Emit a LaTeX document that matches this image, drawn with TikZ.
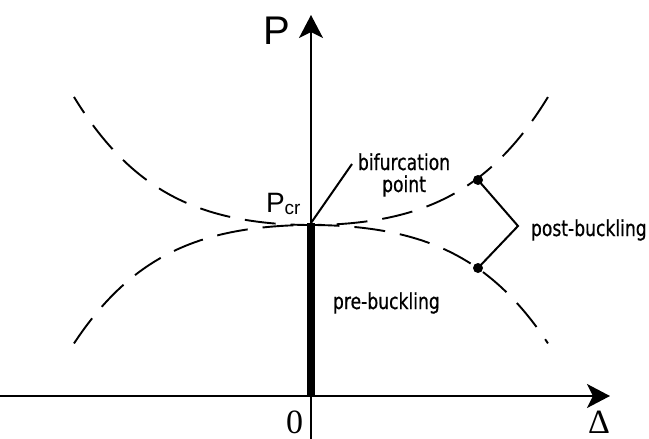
\documentclass[tikz,border=0pt]{standalone}
\usepackage{fontspec}
\setmainfont{Liberation Serif}
\newfontfamily\lab[FakeStretch=0.78,FakeBold=0.6]{DejaVu Sans}
\newfontfamily\arialf{Liberation Sans}
\usetikzlibrary{arrows.meta}
\begin{document}
\begin{tikzpicture}[x=1pt,y=-1pt, line width=2pt,
  axis/.style={-{Stealth[length=23pt,width=24pt,inset=6pt]}},
  dashcurve/.style={dash pattern=on 31pt off 15pt, line width=1.9pt},
  lbl/.style={font=\lab\fontsize{22}{22}\selectfont, inner sep=0pt, anchor=base west},
  dotmark/.style={circle, fill, inner sep=0pt, minimum size=10pt}]
\useasboundingbox (0,0) rectangle (649,439);
% axes
\coordinate (xs) at (0,396);
\coordinate (xe) at (610,396);
\coordinate (ys) at (311,439);
\coordinate (ye) at (311,15);
\draw[axis] (xs) -- (xe);
\draw[axis] (ys) -- (ye);
% pre-buckling bar
\coordinate (pcr) at (311,223);
\coordinate (bot) at (311,396);
\draw[line width=8pt] (pcr) -- (bot);
% curves
\draw[dashcurve, dash phase=12pt] plot[domain=-2.37:2.37, samples=90, smooth]
  ({311+100*\x},{225-11*\x*\x-2.1*\x*\x*\x*\x});
\draw[dashcurve] plot[domain=-2.37:2.37, samples=90, smooth]
  ({311+100*\x},{225+0.925*(11*\x*\x+2.1*\x*\x*\x*\x)});
% dots and bracket
\node[dotmark] (d1) at (478,180) {};
\node[dotmark] (d2) at (478,268) {};
\coordinate (br) at (518,226);
\draw (d1.center) -- (br) -- (d2.center);
% leader
\coordinate (lt) at (352,164);
\draw (pcr) -- (lt);
% labels
\node[lbl] (bif) at (357,170) {bifurcation};
\node[lbl, anchor=base] (pt) at ([yshift=-22pt]bif.base) {point};
\node[lbl] (post) at (530,236) {post-buckling};
\node[lbl] (pre) at (332,309) {pre-buckling};
\node[font=\arialf\fontsize{40}{40}\selectfont, inner sep=0pt, anchor=base west] (P) at (262,45) {P};
\node[font=\arialf\fontsize{28}{28}\selectfont, inner sep=0pt, anchor=base west] (Pc) at (265,212) {P\raisebox{-2pt}{\fontsize{19}{19}\selectfont cr}};
\node[font=\fontsize{34}{34}\selectfont, inner sep=0pt, anchor=base west] (zero) at (285,433) {0};
\node[font=\fontsize{34}{34}\selectfont, inner sep=0pt, anchor=base west] (delta) at (587,433) {Δ};
\end{tikzpicture}
\end{document}
